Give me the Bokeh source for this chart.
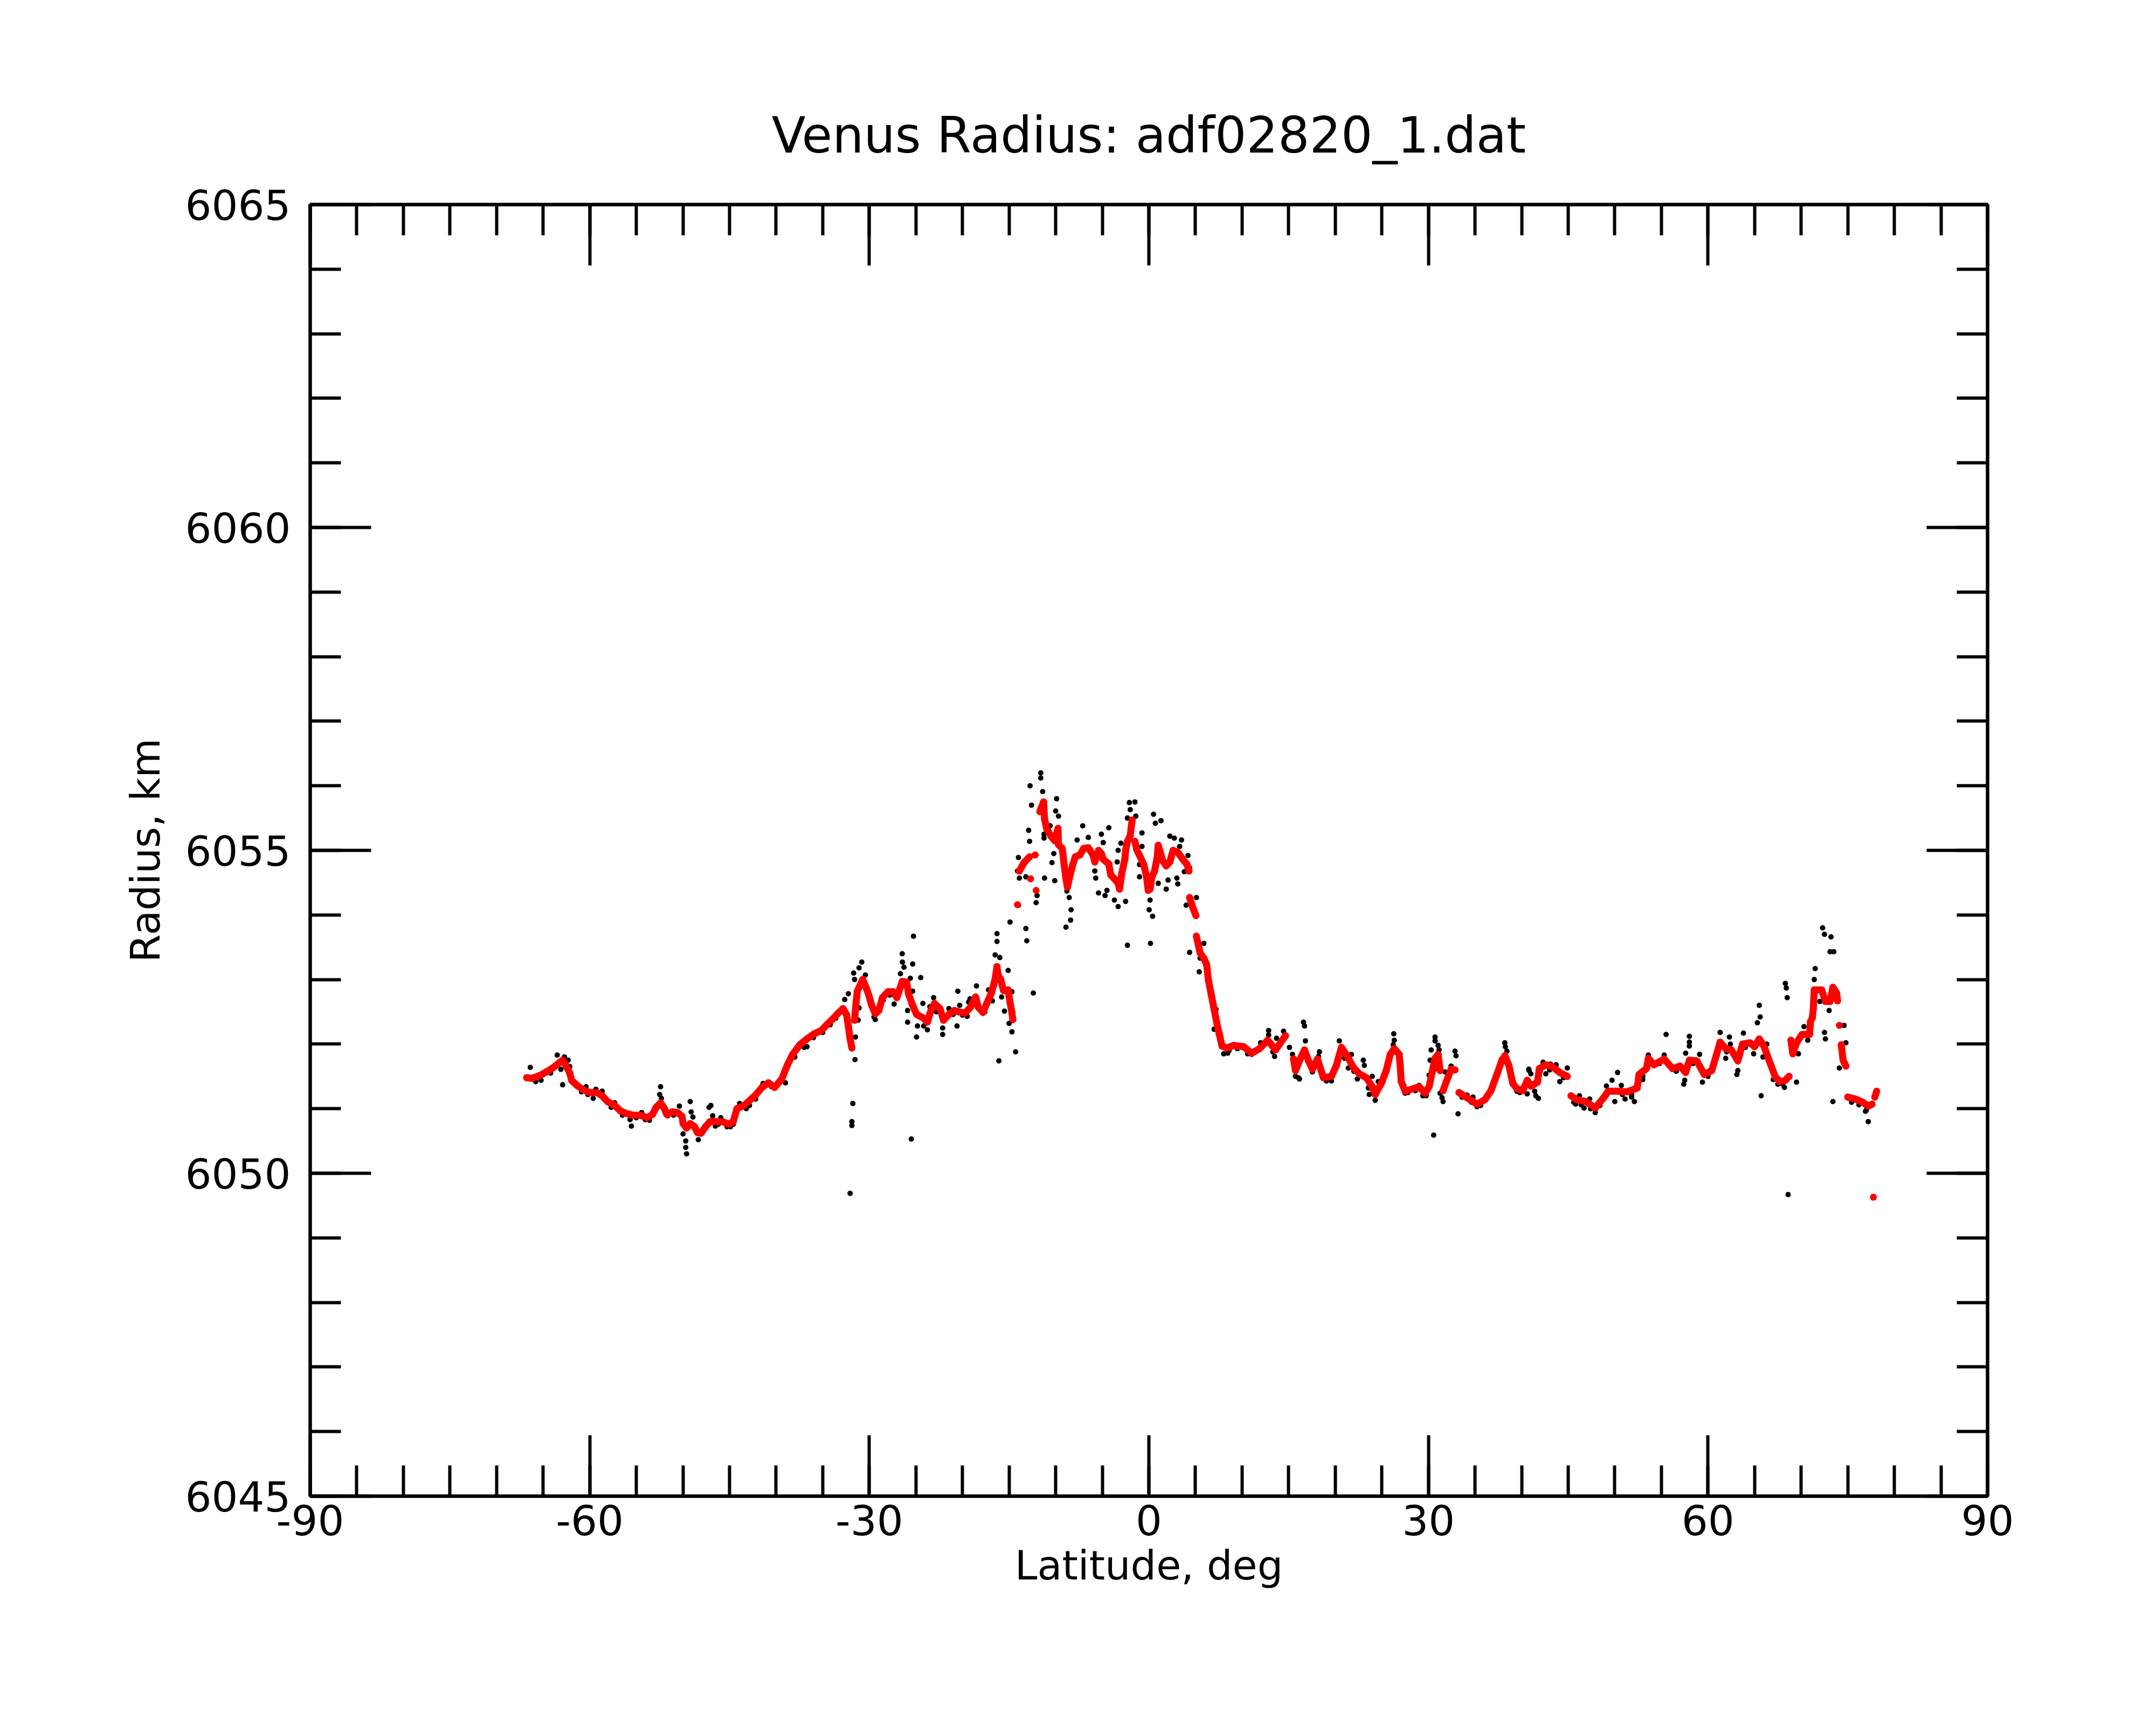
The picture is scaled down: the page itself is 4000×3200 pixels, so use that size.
import math
from bokeh.plotting import figure
from bokeh.models import Range1d, LinearAxis, SingleIntervalTicker, PrintfTickFormatter
from bokeh.embed import file_html
from bokeh.resources import INLINE

# ---- data ----
red_lat = [-66.77, -66.19, -65.42, -64.65, -63.87, -63.30, -62.91, -62.52, -62.14, -61.95,
           -61.37, -60.79, -60.02, -59.25, -58.67, -58.09, -57.32, -56.74, -56.16, -55.39,
           -54.62, -53.85, -53.27, -52.88, -52.40, -52.02, -51.73, -51.15, -50.57, -50.09,
           -49.99, -49.61, -49.22, -48.74, -48.45, -48.06, -47.58, -47.10, -46.52, -45.75,
           -45.08, -44.60, -44.21, -43.44, -42.67, -42.28, -41.51, -40.83, -40.16, -39.39,
           -38.81, -38.23, -37.46, -36.69, -35.92, -35.15, -34.57, -33.99, -33.41, -32.83,
           -32.45, -32.25, -32.06, -31.87, -31.58, -31.48, -31.29, -30.71, -30.33, -30.04,
           -29.75, -29.36, -28.98, -28.59, -28.01, -27.43, -27.05, -26.86, -26.47, -25.99,
           -25.80, -25.41, -24.93, -24.16, -23.77, -23.39, -23.00, -22.42, -22.04, -21.46,
           -20.88, -20.11, -19.73, -19.15, -18.60, -18.30, -17.80, -17.40, -16.90, -16.50,
           -16.30, -16.20, -15.90, -15.60, -15.10, -15.00, -14.70, -14.60, -14.10, -13.90,
           -13.40, -12.80, -12.70, -12.20, -12.10, -11.70, -11.30, -11.20, -10.96, -10.50,
           -10.10, -9.75, -9.70, -9.30, -9.20, -9.10, -9.00, -8.90, -8.74, -8.45,
           -8.20, -7.90, -7.40, -7.00, -6.50, -6.00, -5.80, -5.40, -5.10, -4.90,
           -4.30, -4.10, -3.70, -3.30, -3.15, -2.90, -2.57, -2.50, -2.30, -2.00,
           -1.80, -1.50, -1.30, -0.93, -0.55, -0.26, -0.07, 0.13, 0.32, 0.61,
           0.90, 1.00, 1.48, 1.86, 2.25, 2.60, 3.10, 3.60, 4.10, 4.30,
           4.37, 4.70, 5.05, 5.10, 5.50, 5.90, 6.20, 6.40, 6.70, 7.00,
           7.30, 7.55, 7.85, 8.40, 9.10, 10.17, 11.03, 11.88, 12.74, 13.59,
           14.66, 15.52, 15.73, 16.27, 16.70, 17.13, 17.55, 18.09, 18.73, 19.59,
           20.12, 20.66, 21.30, 21.94, 22.58, 23.33, 23.97, 24.29, 24.94, 25.47,
           25.90, 26.33, 26.86, 26.97, 27.08, 27.50, 28.36, 29.00, 29.64, 30.07,
           30.39, 30.71, 31.04, 31.25, 31.57, 32.00, 32.43, 32.85, 33.28, 34.14,
           35.21, 36.06, 36.71, 37.35, 37.88, 38.20, 38.63, 39.06, 39.49, 40.13,
           40.60, 41.00, 41.70, 41.90, 42.60, 43.30, 44.10, 44.90, 45.30, 45.90,
           46.90, 47.90, 48.80, 49.30, 50.30, 51.30, 52.40, 52.60, 53.40, 53.60,
           54.20, 55.30, 56.20, 57.00, 57.60, 58.00, 58.80, 59.60, 60.40, 60.90,
           61.30, 61.90, 62.50, 63.20, 63.70, 64.50, 65.00, 65.50, 66.00, 66.50,
           67.20, 67.70, 68.30, 68.70, 68.90, 69.10, 69.50, 70.10, 70.90, 71.00,
           71.20, 71.30, 71.40, 72.20, 72.60, 73.10, 73.40, 73.80, 73.90, 74.10,
           74.30, 74.50, 74.80, 75.00, 75.80, 76.60, 77.20, 77.60, 77.75, 77.90,
           78.10]
red_r = [6051.48, 6051.47, 6051.51, 6051.57, 6051.64, 6051.71, 6051.75, 6051.66, 6051.55, 6051.44,
         6051.36, 6051.30, 6051.25, 6051.25, 6051.20, 6051.11, 6051.05, 6050.97, 6050.93, 6050.90,
         6050.90, 6050.86, 6050.91, 6051.02, 6051.09, 6051.01, 6050.91, 6050.95, 6050.94, 6050.88,
         6050.77, 6050.70, 6050.77, 6050.72, 6050.63, 6050.62, 6050.72, 6050.80, 6050.80, 6050.80,
         6050.76, 6050.80, 6051.00, 6051.05, 6051.15, 6051.20, 6051.33, 6051.40, 6051.33, 6051.46,
         6051.67, 6051.84, 6051.99, 6052.08, 6052.16, 6052.21, 6052.30, 6052.38, 6052.47, 6052.55,
         6052.46, 6052.28, 6052.08, 6051.94, 6052.37, 6052.56, 6052.82, 6053.00, 6052.87, 6052.75,
         6052.60, 6052.47, 6052.52, 6052.72, 6052.81, 6052.81, 6052.72, 6052.80, 6052.97, 6052.96,
         6052.78, 6052.62, 6052.46, 6052.40, 6052.34, 6052.52, 6052.63, 6052.55, 6052.37, 6052.46,
         6052.52, 6052.49, 6052.48, 6052.57, 6052.73, 6052.57, 6052.49, 6052.63, 6052.79, 6053.01,
         6053.20, 6053.08, 6053.00, 6052.83, 6052.84, 6052.73, 6052.49, 6052.38, 6054.16, 6054.68,
         6054.81, 6054.90, 6054.56, 6054.93, 6054.38, 6055.60, 6055.75, 6055.49, 6055.33, 6055.22,
         6055.15, 6055.34, 6055.09, 6055.03, 6054.92, 6054.78, 6054.68, 6054.56, 6054.43, 6054.62,
         6054.76, 6054.90, 6054.93, 6055.03, 6055.04, 6054.93, 6054.82, 6055.00, 6054.95, 6054.86,
         6054.79, 6054.62, 6054.56, 6054.49, 6054.40, 6054.65, 6054.87, 6055.00, 6055.14, 6055.23,
         6055.47, 6055.14, 6055.01, 6054.90, 6054.78, 6054.60, 6054.38, 6054.40, 6054.59, 6054.68,
         6054.90, 6055.08, 6054.84, 6054.76, 6054.82, 6055.00, 6054.97, 6054.87, 6054.78, 6054.68,
         6054.27, 6054.12, 6053.99, 6053.67, 6053.41, 6053.33, 6053.23, 6052.98, 6052.76, 6052.54,
         6052.32, 6052.16, 6051.97, 6051.94, 6051.98, 6051.96, 6051.86, 6051.93, 6052.06, 6051.91,
         6052.13, 6051.77, 6051.59, 6051.78, 6051.91, 6051.74, 6051.61, 6051.77, 6051.48, 6051.50,
         6051.67, 6051.95, 6051.81, 6051.64, 6051.54, 6051.48, 6051.34, 6051.22, 6051.39, 6051.59,
         6051.84, 6051.93, 6051.84, 6051.67, 6051.42, 6051.27, 6051.31, 6051.34, 6051.24, 6051.34,
         6051.56, 6051.78, 6051.84, 6051.59, 6051.28, 6051.45, 6051.61, 6051.60, 6051.25, 6051.17,
         6051.07, 6051.14, 6051.28, 6051.53, 6051.75, 6051.82, 6051.67, 6051.39, 6051.31, 6051.28,
         6051.44, 6051.35, 6051.41, 6051.62, 6051.68, 6051.65, 6051.56, 6051.50, 6051.20, 6051.14,
         6051.11, 6051.01, 6051.17, 6051.27, 6051.27, 6051.26, 6051.32, 6051.53, 6051.62, 6051.78,
         6051.68, 6051.77, 6051.62, 6051.66, 6051.56, 6051.75, 6051.74, 6051.53, 6051.59, 6051.83,
         6052.03, 6051.93, 6051.91, 6051.74, 6052.00, 6052.02, 6051.96, 6052.08, 6051.97, 6051.77,
         6051.50, 6051.42, 6051.44, 6051.50, 6052.06, 6051.85, 6052.02, 6052.15, 6052.15, 6052.35,
         6052.41, 6052.55, 6052.84, 6052.84, 6052.66, 6052.66, 6052.88, 6052.79, 6052.67, 6052.29,
         6051.99, 6051.75, 6051.66, 6051.18, 6051.15, 6051.10, 6051.04, 6051.07, 6049.63, 6051.18,
         6051.27]

black_lat = [-66.38, -65.22, -63.49, -62.72, -63.10, -62.91, -62.33, -62.14, -60.40, -60.89,
             -59.63, -59.34, -58.67, -57.70, -57.32, -55.68, -55.53, -54.43, -54.04, -52.40,
             -52.50, -52.31, -51.63, -50.38, -49.22, -49.12, -48.93, -49.99, -49.70, -49.70,
             -49.61, -48.35, -47.20, -47.00, -46.81, -45.94, -46.52, -45.27, -44.60, -43.92,
             -42.86, -41.41, -36.69,
             -31.77, -31.87, -31.87, -32.06, -31.54, -31.48, -31.10, -31.20, -30.81, -31.10,
             -31.68, -31.58, -30.42, -32.64, -32.25, -29.36, -27.34, -26.47, -26.45, -26.28,
             -26.66, -25.60, -25.35, -25.26, -24.48, -25.35, -25.89, -25.89, -24.93, -24.83,
             -24.25, -24.16, -23.77, -25.50, -23.10, -22.13, -22.13, -21.46, -20.59, -20.50,
             -20.30, -19.34,
             -11.60, -11.60, -11.40, -12.75, -12.60, -9.90, -10.00, -9.70, -12.90, -12.80,
             -11.25, -10.60, -10.40, -10.20, -14.00, -11.20, -10.10, -12.10, -12.00, -13.20,
             -13.10, -14.90, -14.00, -12.40, -16.30, -16.30, -16.50, -16.00, -15.10, -14.70,
             -14.70, -14.30, -16.10, -18.50, -19.20, -17.20, -16.80, -15.80, -15.50, -15.00,
             -19.50, -8.55, -8.35, -8.40, -8.90, -8.80, -7.10, -6.50, -7.70, -4.30,
             -5.10, -4.90, -5.80, -5.70, -5.40, -4.70, -4.50, -3.70, -3.30, -2.50,
             -3.40, -3.30, -3.00, -2.30, -2.10, -1.50, -2.00, -2.30, -1.40, -0.74,
             -0.74, -1.00, -1.00, 0.13, 0.03, 0.40, 0.17, 0.50, 1.30, 0.70,
             1.00, 1.86, 2.06, 2.25, 2.73, 3.50, 3.30, 3.00, 3.10, 3.80,
             4.20, 4.37, 4.00, 4.37, 5.90, 5.40, 5.50, 5.10, 7.20, 7.20,
             7.00, -13.90, -14.10, -13.20, -11.25,
             16.59, 16.70, 16.80, 12.85, 12.85, 14.45, 13.70, 11.99, 13.49, 15.09,
             15.41, 16.05, 18.30, 18.20, 17.55, 19.05, 20.44, 21.73, 21.41, 23.01,
             23.12, 22.37, 23.97, 23.55, 23.65, 24.29, 24.62, 26.28, 26.33, 26.22,
             30.71, 30.71, 31.04, 30.29, 31.14, 30.18, 30.61, 31.14, 30.07, 32.85,
             32.96, 32.43, 31.78, 31.89, 31.25, 31.46, 31.57, 33.18, 30.56, 38.20,
             38.25, 38.42, 40.77, 40.99, 41.52, 39.49, 34.78, 34.14, 35.21, 27.50,
             29.00, 29.75, 19.59, 16.16, 15.73, 8.03, 8.46, 11.03,
             72.30, 72.50, 73.20, 73.10, 73.50, 71.50, 71.40, 68.30, 68.40, 68.50,
             65.50, 65.60, 65.30, 65.70, 68.60, 72.00, 73.00, 72.50, 72.60, 74.60,
             74.80, 74.10, 73.40, 77.20, 76.90, 69.50, 68.20, 70.30, 70.70, 69.70,
             61.30, 62.30, 62.40, 63.80, 63.10, 63.20, 61.90, 64.90, 66.30, 65.90,
             58.00, 58.00, 58.00, 57.60, 59.10, 57.40, 57.50, 59.40, 55.50, 53.60,
             55.30, 53.00, 50.30, 49.70, 49.10, 50.00, 50.70, 51.10, 52.10, 51.80,
             47.90, 46.70, 45.80, 47.30, 46.20, 42.30, 43.10, 43.70, 44.10, 44.90,
             40.80, 41.80, 41.40, 40.60, 42.60,
             -65.80, -64.20, -61.80, -60.20, -58.40, -56.50, -55.00, -53.60, -51.00, -47.80,
             -46.20, -44.90, -43.20, -42.20, -40.50, -39.00, -38.00, -37.00, -36.00, -35.00,
             -34.20, -33.60, -33.00, -30.00, -29.50, -28.50, -27.80, -23.50, -22.80, -21.00,
             -20.00, -18.80, -17.60, -16.60, 8.60, 9.50, 10.60, 11.50, 12.40, 13.30,
             14.20, 17.90, 19.30, 21.00, 22.00, 24.60, 25.20, 27.80, 28.60, 29.40,
             33.60, 34.60, 35.60, 36.40, 37.00, 39.80, 42.00, 43.00, 44.50, 45.60,
             46.40, 47.40, 48.40, 49.00, 50.80, 51.80, 53.00, 54.80, 56.60, 58.40,
             59.20, 60.00, 60.60, 62.00, 62.80, 64.00, 66.20, 67.00, 67.50, 68.00,
             75.40, 76.20, 77.00]
black_r = [6051.64, 6051.44, 6051.83, 6051.80, 6051.61, 6051.37, 6051.75, 6051.65, 6051.34, 6051.26,
           6051.16, 6051.30, 6051.27, 6051.02, 6051.09, 6050.83, 6050.73, 6050.94, 6050.83, 6051.34,
           6051.22, 6051.16, 6050.89, 6051.04, 6051.11, 6050.95, 6050.87, 6050.61, 6050.50, 6050.40,
           6050.30, 6050.52, 6051.02, 6051.05, 6050.89, 6050.86, 6050.73, 6050.72, 6050.76, 6051.08,
           6051.05, 6051.39, 6051.96,
           6051.08, 6050.80, 6050.74, 6049.69, 6051.76, 6052.11, 6052.56, 6052.37, 6053.27, 6053.18,
           6053.10, 6053.00, 6053.07, 6052.69, 6052.78, 6052.38, 6052.62, 6053.40, 6053.27, 6053.19,
           6053.09, 6053.02, 6053.24, 6053.67, 6053.03, 6052.82, 6052.52, 6052.34, 6052.11, 6052.28,
           6052.63, 6052.28, 6052.22, 6050.53, 6052.72, 6052.25, 6052.15, 6052.55, 6052.28, 6052.82,
           6052.60, 6052.65,
           6056.20, 6056.12, 6055.91, 6056.00, 6055.70, 6055.80, 6055.61, 6055.53, 6055.31, 6055.14,
           6055.19, 6055.38, 6054.81, 6054.95, 6054.89, 6054.57, 6054.53, 6054.19, 6054.30, 6053.79,
           6053.60, 6053.89, 6054.15, 6052.79, 6053.71, 6053.59, 6053.38, 6053.34, 6053.14, 6052.81,
           6052.19, 6051.88, 6051.74, 6052.90, 6052.70, 6052.84, 6052.67, 6052.73, 6052.51, 6052.32,
           6052.43, 6054.27, 6054.08, 6053.92, 6053.81, 6054.37, 6055.38, 6055.20, 6055.16, 6055.35,
           6055.25, 6055.12, 6054.68, 6054.57, 6054.34, 6054.30, 6054.38, 6054.23, 6054.13, 6054.21,
           6054.82, 6055.00, 6055.11, 6053.53, 6055.74, 6055.75, 6055.63, 6055.50, 6055.53, 6055.27,
           6055.06, 6054.78, 6054.59, 6054.23, 6054.08, 6053.98, 6053.56, 6055.56, 6055.46, 6055.42,
           6054.49, 6054.40, 6054.54, 6055.22, 6055.19, 6055.16, 6055.06, 6054.57, 6054.48, 6054.67,
           6054.92, 6054.73, 6054.15, 6053.42, 6053.56, 6053.12, 6053.33, 6054.27, 6052.54, 6052.42,
           6052.23, 6054.57, 6054.68, 6054.59, 6055.25,
           6052.34, 6052.28, 6052.05, 6052.21, 6052.14, 6052.20, 6052.09, 6052.02, 6051.81, 6051.95,
           6051.84, 6051.48, 6051.88, 6051.81, 6051.57, 6051.43, 6052.05, 6051.84, 6051.63, 6051.75,
           6051.67, 6051.46, 6051.50, 6051.32, 6051.22, 6051.13, 6051.42, 6052.16, 6052.06, 6051.99,
           6052.11, 6052.05, 6051.98, 6051.91, 6051.91, 6051.75, 6051.61, 6051.61, 6051.52, 6051.89,
           6051.82, 6051.66, 6051.57, 6051.41, 6051.24, 6051.17, 6051.11, 6050.92, 6050.59, 6052.02,
           6051.96, 6051.89, 6051.61, 6051.54, 6051.20, 6051.27, 6051.18, 6051.21, 6051.03, 6051.24,
           6051.36, 6051.20, 6051.43, 6051.46, 6051.50, 6051.85, 6051.86, 6051.84,
           6053.80, 6053.70, 6053.66, 6053.43, 6053.43, 6053.17, 6053.00, 6052.94, 6052.87, 6052.72,
           6052.60, 6052.42, 6052.33, 6051.20, 6049.67, 6052.66, 6052.52, 6052.18, 6052.08, 6052.29,
           6052.02, 6051.63, 6051.11, 6050.80, 6050.96, 6051.41, 6051.33, 6052.27, 6052.06, 6051.85,
           6052.18, 6052.11, 6052.00, 6052.17, 6051.53, 6051.59, 6051.78, 6051.85, 6052.00, 6051.80,
           6052.12, 6052.03, 6051.97, 6051.86, 6051.84, 6051.38, 6051.44, 6051.41, 6052.15, 6051.83,
           6051.83, 6051.45, 6051.56, 6051.44, 6051.35, 6051.11, 6051.36, 6051.15, 6051.11, 6051.18,
           6050.94, 6051.01, 6051.07, 6051.15, 6051.20, 6051.72, 6051.69, 6051.68, 6051.42, 6051.63,
           6051.59, 6051.16, 6051.27, 6051.23, 6051.54,
           6051.42, 6051.55, 6051.40, 6051.22, 6051.14, 6050.90, 6050.86, 6050.82, 6050.90, 6050.66,
           6050.76, 6050.72, 6051.00, 6051.15, 6051.34, 6051.40, 6051.80, 6051.95, 6052.10, 6052.18,
           6052.30, 6052.40, 6052.52, 6052.70, 6052.42, 6052.68, 6052.76, 6052.58, 6052.50, 6052.46,
           6052.45, 6052.62, 6052.50, 6052.90, 6051.90, 6051.93, 6051.85, 6051.88, 6052.00, 6051.88,
           6052.05, 6051.72, 6051.45, 6051.78, 6051.58, 6051.30, 6051.52, 6051.25, 6051.28, 6051.20,
           6051.18, 6051.10, 6051.05, 6051.20, 6051.42, 6051.25, 6051.58, 6051.60, 6051.48, 6051.10,
           6051.06, 6051.00, 6051.05, 6051.22, 6051.22, 6051.22, 6051.50, 6051.70, 6051.58, 6051.70,
           6051.62, 6051.50, 6051.68, 6051.88, 6051.84, 6051.95, 6051.88, 6051.45, 6051.38, 6051.38,
           6051.10, 6051.06, 6050.98]

title_text = "Venus Radius: adf02820_1.dat"
x_label = "Latitude, deg"
y_label = "Radius, km"
x_limits = (-90, 90)
y_limits = (6045, 6065)

# ---- figure ----
FONT = "DejaVu Sans"
W, H = 3984, 3184
p = figure(width=W, height=H, output_backend="svg", toolbar_location=None,
           x_range=Range1d(*x_limits), y_range=Range1d(*y_limits),
           min_border_left=575, min_border_right=297, min_border_top=379, min_border_bottom=409,
           x_axis_label=x_label, y_axis_label=y_label)
p.background_fill_color = "white"
p.border_fill_color = "white"
p.outline_line_color = "black"
p.outline_line_width = 6
p.xgrid.visible = False
p.ygrid.visible = False

p.title.text = title_text
p.title.align = "center"
p.title.text_font = FONT
p.title.text_font_size = "92px"
p.title.text_font_style = "normal"
p.title.text_color = "black"
p.title.standoff = 150

def style(ax, labels=True):
    ax.axis_line_width = 6
    ax.axis_line_color = "black"
    ax.major_tick_line_width = 6
    ax.minor_tick_line_width = 6
    ax.major_tick_line_color = "black"
    ax.minor_tick_line_color = "black"
    ax.major_tick_in = 113
    ax.major_tick_out = 0
    ax.minor_tick_in = 57
    ax.minor_tick_out = 0
    ax.formatter = PrintfTickFormatter(format="%d")
    if labels:
        ax.major_label_text_font = FONT
        ax.major_label_text_font_size = "77px"
        ax.major_label_text_color = "black"
        ax.axis_label_text_font = FONT
        ax.axis_label_text_font_size = "75px"
        ax.axis_label_text_font_style = "normal"
        ax.axis_label_text_color = "black"
    else:
        ax.major_label_text_font_size = "10px"
        ax.major_label_text_color = None
        ax.major_label_standoff = 0

xa = p.xaxis[0]
xa.ticker = SingleIntervalTicker(interval=30, num_minor_ticks=6)
style(xa)
xa.major_label_standoff = 16
xa.axis_label_standoff = 9

ya = p.yaxis[0]
ya.ticker = SingleIntervalTicker(interval=5, num_minor_ticks=5)
style(ya)
ya.major_label_standoff = 36
ya.axis_label_standoff = 27

top = LinearAxis(ticker=SingleIntervalTicker(interval=30, num_minor_ticks=6))
style(top, labels=False)
p.add_layout(top, "above")
right = LinearAxis(ticker=SingleIntervalTicker(interval=5, num_minor_ticks=5))
style(right, labels=False)
p.add_layout(right, "right")

# raw points
p.scatter(black_lat, black_r, size=10, color="black", line_color=None)

# smoothed series: connecting line (broken at jumps) plus dots
lx, ly = [], []
for i, (a, b) in enumerate(zip(red_lat, red_r)):
    if i > 0 and (abs(b - red_r[i - 1]) > 0.3 or a - red_lat[i - 1] > 1.3):
        lx.append(float("nan")); ly.append(float("nan"))
    lx.append(a); ly.append(b)
p.line(lx, ly, line_width=13, color="red", line_cap="round", line_join="round")
p.scatter(red_lat, red_r, size=13, color="red", line_color=None)

open("out.html", "w").write(file_html(p, INLINE))
